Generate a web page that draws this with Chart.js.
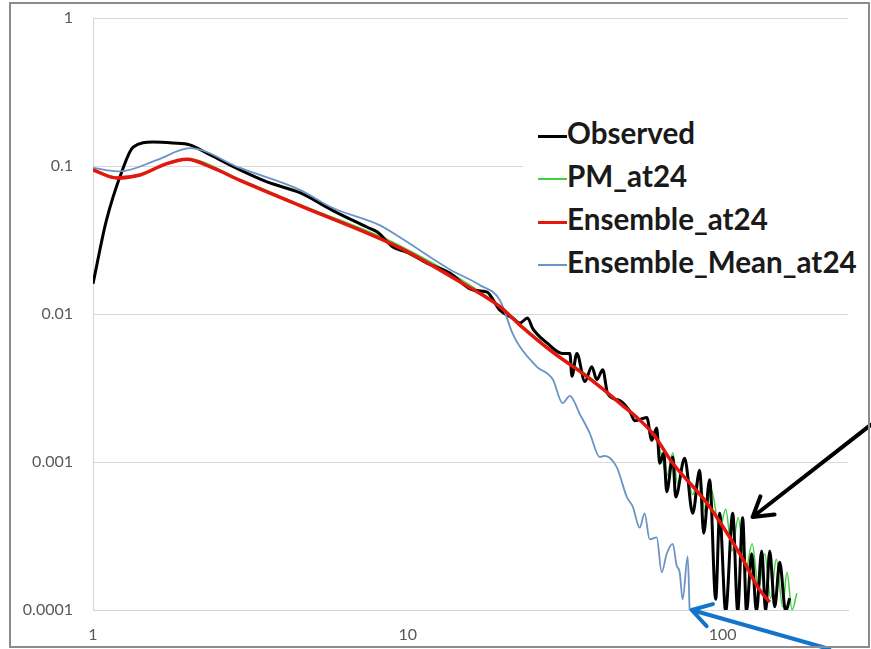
<!DOCTYPE html>
<html>
<head>
<meta charset="utf-8">
<script src="https://cdn.jsdelivr.net/npm/chart.js@4/dist/chart.umd.min.js"></script>
<style>
  body { margin: 0; background: #fff; }
  #wrap { position: relative; width: 871px; height: 649px; }
  #chart { position: absolute; left: 0; top: 0; }
  #frame { position: absolute; left: 9px; top: 2px; width: 861px; height: 646px; box-sizing: border-box; border: 2px solid #8c8c8c; pointer-events: none; }
  #legend { position: absolute; left: 523px; top: 111px; padding-left: 15px; background: #fff; font-family: Lato, "Open Sans", sans-serif; font-weight: bold; font-size: 29.6px; color: #1a1a1a; }
  .row { height: 43px; line-height: 43px; white-space: nowrap; }
  .sw { display: inline-block; width: 29px; vertical-align: middle; }
</style>
</head>
<body>
<div id="wrap">
  <canvas id="chart" width="871" height="649"></canvas>
  <div id="legend"></div>
  <div id="frame"></div>
</div>
<script>
// DATA
const xTicks = [1, 10, 100];
const yTicks = [0.0001, 0.001, 0.01, 0.1, 1];

const observedX = [1, 1.1, 1.24, 1.34, 1.55, 1.79, 2.03, 2.3, 2.93, 3.57, 4.54, 5.78, 7.41, 8.0, 8.96, 10, 11.5, 13.6, 16.1, 17.8,
  19.6, 21.5, 22.7, 24, 24.9, 27.6, 31, 32.7, 33.2, 34.4, 36.5, 38.4, 39.8, 41.6, 43.1, 47.1, 50.7, 52.6, 57.4, 59.5,
  61.7, 63.1, 65, 66.4, 69.4, 70.9, 75.7, 80.3, 84.5, 87, 90.9, 95, 97.8, 102.2, 107.6, 111.6, 115.7, 119, 123.6, 128,
  133, 136.9, 141, 146.3, 151.7, 158.5, 163.2];
const observedY = [0.016, 0.042, 0.094, 0.134, 0.145, 0.143, 0.139, 0.122, 0.094, 0.078, 0.066, 0.050, 0.0387, 0.0358, 0.0284, 0.026, 0.0221, 0.0189, 0.0145, 0.0141,
  0.0106, 0.0094, 0.0087, 0.0094, 0.0080, 0.0064, 0.0054, 0.0054, 0.0038, 0.0054, 0.0035, 0.0044, 0.0036, 0.0042, 0.0029, 0.0026, 0.0022, 0.0019, 0.0020, 0.0014,
  0.0017, 0.00098, 0.00115, 0.00063, 0.00108, 0.00058, 0.00106, 0.00045, 0.00088, 0.00033, 0.00076, 0.000118, 0.00045, 0.000098, 0.00045, 0.000098, 0.00042, 0.000098, 0.00024, 0.000098,
  0.00025, 0.000098, 0.00025, 0.000105, 0.00021, 0.000098, 0.00012];

const pmX = [1, 1.19, 1.41, 1.99, 2.93, 4.54, 9.43, 19.6, 22.7, 28.9, 36.9, 47.1, 52.6, 57.4, 61.7, 64, 66.4, 69.4, 72, 75.7,
  80.3, 84.5, 88, 92, 97.8, 102.2, 107, 112, 118, 124, 130, 136, 142, 148, 155, 160, 166, 172];
const pmY = [0.095, 0.084, 0.088, 0.112, 0.081, 0.055, 0.029, 0.0114, 0.0086, 0.0056, 0.0039, 0.0025, 0.0021, 0.0017, 0.0014, 0.0011, 0.0008, 0.00115, 0.0007, 0.001,
  0.0006, 0.00085, 0.00045, 0.00065, 0.00035, 0.00048, 0.00025, 0.00042, 0.00018, 0.00028, 0.00014, 0.00024, 0.00012, 0.00022, 0.000105, 0.00018, 0.0001, 0.00013];

const ensX = [1, 1.19, 1.41, 1.7, 1.99, 2.4, 2.93, 4.54, 9.43, 15, 19.6, 22.7, 28.9, 36.9, 47.1, 59.8, 69.4, 88.9, 113.2, 130, 141];
const ensY = [0.094, 0.083, 0.087, 0.103, 0.111, 0.097, 0.080, 0.054, 0.028, 0.016, 0.0112, 0.0084, 0.0055, 0.0038, 0.0025, 0.00157, 0.00098, 0.00053, 0.00024, 0.00014, 0.000113];

const meanX = [1, 1.22, 1.6, 2.03, 2.93, 4.54, 5.78, 8.1, 9.43, 13.6, 16.9, 19.6, 21.5, 22.7, 25.7, 28.9, 31.0, 32.7, 35.2, 37.8,
  40.7, 42.2, 46.1, 49.6, 51.8, 54.5, 56.5, 58.6, 61.7, 64.0, 66.4, 69.4, 71.4, 73.0, 74.6, 77.4, 78.5];
const meanY = [0.097, 0.092, 0.110, 0.132, 0.097, 0.069, 0.052, 0.040, 0.033, 0.020, 0.0157, 0.0124, 0.0074, 0.0060, 0.0044, 0.0036, 0.0025, 0.0028, 0.0021, 0.00157,
  0.00108, 0.00110, 0.00092, 0.00058, 0.00050, 0.00036, 0.00045, 0.00030, 0.00031, 0.00018, 0.00024, 0.00028, 0.00020, 0.00018, 0.000118, 0.00023, 0.0001];

const seriesNames = ["Observed", "PM_at24", "Ensemble_at24", "Ensemble_Mean_at24"];
const seriesColors = ["#000000", "#3fcf3f", "#e3170d", "#6a93c6"];
const seriesWidths = [3, 1.5, 3.5, 1.8];
const legendWidths = [3, 2, 3, 2];

// arrows (tail -> tip), in data coordinates
const arrows = [
  { from: [295, 0.00178], to: [124.5, 0.000425], color: "#000000" },
  { from: [218, 0.0000545], to: [79.7, 0.0001], color: "#1275c9" }
];

function toPoints(xs, ys) {
  return xs.map((x, i) => ({ x: x, y: ys[i] }));
}

const allX = [observedX, pmX, ensX, meanX];
const allY = [observedY, pmY, ensY, meanY];
const drawOrder = [2, 3, 0, 1]; // red on top

const datasets = seriesNames.map((name, i) => ({
  label: name,
  data: toPoints(allX[i], allY[i]),
  borderColor: seriesColors[i],
  borderWidth: seriesWidths[i],
  pointRadius: 0,
  fill: false,
  cubicInterpolationMode: "monotone",
  order: drawOrder[i]
}));

// LEGEND
let legend = document.getElementById("legend");
legend.innerHTML = seriesNames.map((name, i) =>
  `<div class="row"><span class="sw" style="height:${legendWidths[i]}px;background:${seriesColors[i]}"></span>${name}</div>`
).join("");

// plugin para las flechas
const arrowPlugin = {
  id: "arrows",
  afterDraw(chart) {
    const ctx = chart.ctx;
    const sx = chart.scales.x;
    const sy = chart.scales.y;
    arrows.forEach(a => {
      const x0 = sx.getPixelForValue(a.from[0]), y0 = sy.getPixelForValue(a.from[1]);
      const x1 = sx.getPixelForValue(a.to[0]), y1 = sy.getPixelForValue(a.to[1]);
      const ang = Math.atan2(y0 - y1, x0 - x1);
      ctx.save();
      ctx.strokeStyle = a.color;
      ctx.lineWidth = 4;
      ctx.lineCap = "round";
      ctx.lineJoin = "round";
      ctx.beginPath();
      ctx.moveTo(x0, y0);
      ctx.lineTo(x1, y1);
      ctx.moveTo(x1 + 22 * Math.cos(ang - 0.55), y1 + 22 * Math.sin(ang - 0.55));
      ctx.lineTo(x1, y1);
      ctx.lineTo(x1 + 22 * Math.cos(ang + 0.55), y1 + 22 * Math.sin(ang + 0.55));
      ctx.stroke();
      ctx.restore();
    });
  }
};

const tickFont = { family: "Lato, 'Open Sans', sans-serif", size: 16 };

new Chart(document.getElementById("chart"), {
  type: "line",
  data: { datasets: datasets },
  options: {
    responsive: false,
    animation: false,
    layout: { padding: { left: 0, top: 18, right: 23, bottom: 0 } },
    plugins: { legend: { display: false }, tooltip: { enabled: false } },
    scales: {
      x: {
        type: "logarithmic",
        min: 1,
        max: 250,
        afterBuildTicks: s => { s.ticks = xTicks.map(v => ({ value: v })); },
        afterFit: s => { s.height = 39; },
        grid: { display: false },
        border: { color: "#d4d4d4" },
        ticks: { callback: v => String(v), color: "#595959", font: tickFont, padding: 7, maxRotation: 0, autoSkip: false }
      },
      y: {
        type: "logarithmic",
        min: 0.0001,
        max: 1,
        afterBuildTicks: s => { s.ticks = yTicks.map(v => ({ value: v })); },
        // el padding de las etiquetas no debe empujar el area del grafico
        afterFit: s => { s.width = 93; s.paddingTop = 0; s.paddingBottom = 0; },
        grid: { color: "#d9d9d9", drawTicks: false },
        border: { color: "#d4d4d4" },
        ticks: { callback: v => String(v), color: "#595959", font: tickFont, padding: 20, autoSkip: false }
      }
    }
  },
  plugins: [arrowPlugin]
});
</script>
</body>
</html>
